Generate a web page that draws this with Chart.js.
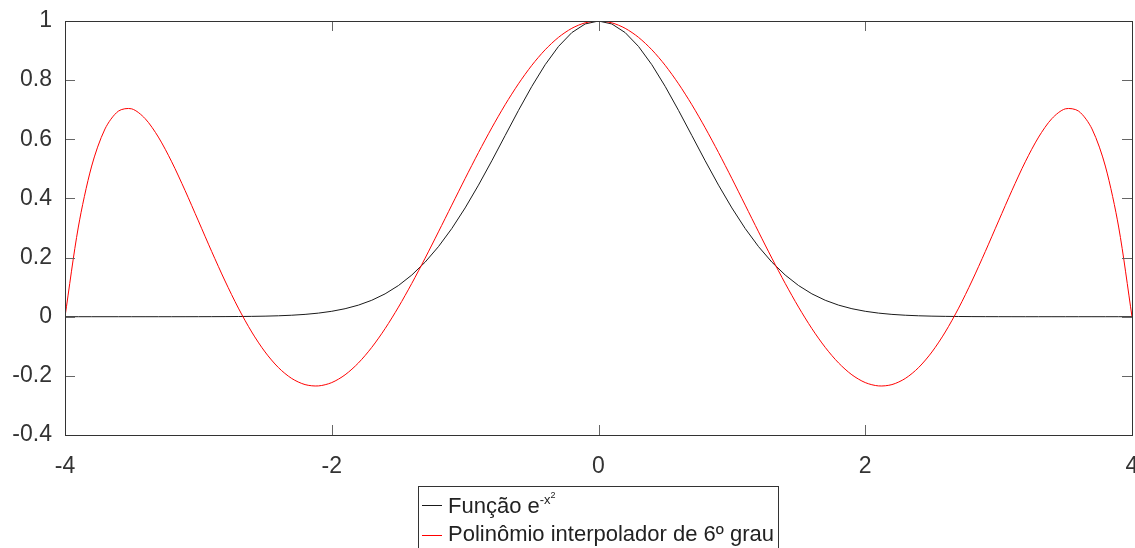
<!DOCTYPE html>
<html>
<head>
<meta charset="utf-8">
<script src="https://cdn.jsdelivr.net/npm/chart.js@4/dist/chart.umd.min.js"></script>
<style>
  html, body { margin: 0; padding: 0; background: #fff; }
  #wrap { position: relative; width: 1135px; height: 548px; overflow: hidden; }
  #chart { position: absolute; left: 0; top: 0; }
  #legend {
    position: absolute; left: 418px; top: 486px; width: 359px; height: 80px;
    border: 1px solid #333; background: transparent;
    font-family: "Liberation Sans", Arial, sans-serif; color: #222;
  }
  .row { position: absolute; left: 29px; font-size: 22px; line-height: 22px; white-space: nowrap; }
  .sup1 { font-size: 13px; vertical-align: 9px; line-height: 0; }
  .sup2 { font-size: 9px; vertical-align: 6px; line-height: 0; }
</style>
</head>
<body>
<div id="wrap">
  <canvas id="chart" width="1135" height="548"></canvas>
  <div id="legend">
    <div class="row" style="top:8px">Função e<span class="sup1">-x<span class="sup2">2</span></span></div>
    <div class="row" style="top:36px">Polinômio interpolador de 6º grau</div>
  </div>
</div>
<script>
// x positions of the samples
const xs = [
  -4.0, -3.9, -3.8, -3.7, -3.6, -3.5, -3.4, -3.3, -3.2, -3.1,
  -3.0, -2.9, -2.8, -2.7, -2.6, -2.5, -2.4, -2.3, -2.2, -2.1,
  -2.0, -1.9, -1.8, -1.7, -1.6, -1.5, -1.4, -1.3, -1.2, -1.1,
  -1.0, -0.9, -0.8, -0.7, -0.6, -0.5, -0.4, -0.3, -0.2, -0.1,
  0.0,
  0.1, 0.2, 0.3, 0.4, 0.5, 0.6, 0.7, 0.8, 0.9, 1.0,
  1.1, 1.2, 1.3, 1.4, 1.5, 1.6, 1.7, 1.8, 1.9, 2.0,
  2.1, 2.2, 2.3, 2.4, 2.5, 2.6, 2.7, 2.8, 2.9, 3.0,
  3.1, 3.2, 3.3, 3.4, 3.5, 3.6, 3.7, 3.8, 3.9, 4.0
];

// Função e^(-x^2)
const gaussValues = [
  0, 0, 0, 0, 0, 0, 0.00001, 0.00002, 0.00003, 0.00007,
  0.00012, 0.00022, 0.00039, 0.00068, 0.00116, 0.00193, 0.00315, 0.00504, 0.00791, 0.01216,
  0.01832, 0.02705, 0.03916, 0.05558, 0.0773, 0.1054, 0.14086, 0.18452, 0.23693, 0.2982,
  0.36788, 0.44486, 0.52729, 0.61263, 0.69768, 0.7788, 0.85214, 0.91393, 0.96079, 0.99005,
  1,
  0.99005, 0.96079, 0.91393, 0.85214, 0.7788, 0.69768, 0.61263, 0.52729, 0.44486, 0.36788,
  0.2982, 0.23693, 0.18452, 0.14086, 0.1054, 0.0773, 0.05558, 0.03916, 0.02705, 0.01832,
  0.01216, 0.00791, 0.00504, 0.00315, 0.00193, 0.00116, 0.00068, 0.00039, 0.00022, 0.00012,
  0.00007, 0.00003, 0.00002, 0.00001, 0, 0, 0, 0, 0, 0
];

// Polinômio interpolador de 6º grau
const polyValues = [
  0, 0.30325, 0.50953, 0.63507, 0.69517, 0.70296, 0.67029, 0.6075, 0.52389, 0.42709,
  0.32405, 0.22036, 0.12076, 0.02907, -0.05168, -0.11919, -0.17194, -0.20886, -0.22956, -0.23402,
  -0.22273, -0.19646, -0.15634, -0.10373, -0.04022, 0.03248, 0.11252, 0.19798, 0.2869, 0.37733,
  0.46734, 0.55509, 0.63881, 0.71685, 0.78771, 0.85005, 0.9027, 0.94468, 0.97523, 0.99378,
  1,
  0.99378, 0.97523, 0.94468, 0.9027, 0.85005, 0.78771, 0.71685, 0.63881, 0.55509, 0.46734,
  0.37733, 0.2869, 0.19798, 0.11252, 0.03248, -0.04022, -0.10373, -0.15634, -0.19646, -0.22273,
  -0.23402, -0.22956, -0.20886, -0.17194, -0.11919, -0.05168, 0.02907, 0.12076, 0.22036, 0.32405,
  0.42709, 0.52389, 0.6075, 0.67029, 0.70296, 0.69517, 0.63507, 0.50953, 0.30325, 0
];

const xTicks = [-4, -2, 0, 2, 4];
const yTicks = [-0.4, -0.2, 0, 0.2, 0.4, 0.6, 0.8, 1];

const labelFont = { family: '"Liberation Sans", Arial, sans-serif', size: 23 };

// frame round the plot plus small inward ticks on all four sides,
// and the short coloured lines of the legend box
const framePlugin = {
  id: 'frame',
  afterDraw(chart) {
    const ctx = chart.ctx;
    const a = chart.chartArea;
    const sx = chart.scales.x, sy = chart.scales.y;
    ctx.save();
    ctx.lineWidth = 1;
    ctx.strokeStyle = '#666';
    ctx.beginPath();
    xTicks.forEach(v => {
      const px = Math.round(sx.getPixelForValue(v)) + 0.5;
      ctx.moveTo(px, a.bottom); ctx.lineTo(px, a.bottom - 10);
      ctx.moveTo(px, a.top); ctx.lineTo(px, a.top + 10);
    });
    yTicks.forEach(v => {
      const py = Math.round(sy.getPixelForValue(v)) + 0.5;
      ctx.moveTo(a.left, py); ctx.lineTo(a.left + 10, py);
      ctx.moveTo(a.right, py); ctx.lineTo(a.right - 10, py);
    });
    ctx.stroke();
    ctx.strokeStyle = '#333';
    ctx.strokeRect(Math.round(a.left) + 0.5, Math.round(a.top) + 0.5,
      Math.round(a.right - a.left), Math.round(a.bottom - a.top));

    const lg = document.getElementById('legend');
    const lx = lg.offsetLeft + 4, ly = lg.offsetTop + 19;
    chart.data.datasets.forEach((ds, i) => {
      ctx.strokeStyle = ds.borderColor;
      ctx.beginPath();
      ctx.moveTo(lx, ly + i * 30 + 0.5);
      ctx.lineTo(lx + 20, ly + i * 30 + 0.5);
      ctx.stroke();
    });
    ctx.restore();
  }
};

const ctx = document.getElementById('chart').getContext('2d');
new Chart(ctx, {
  type: 'line',
  data: {
    datasets: [
      {
        label: 'Função e^-x²',
        data: xs.map((x, i) => ({ x: x, y: gaussValues[i] })),
        borderColor: '#1a1a1a',
        borderWidth: 1,
        pointRadius: 0,
        tension: 0,
        order: 2
      },
      {
        label: 'Polinômio interpolador de 6º grau',
        data: xs.map((x, i) => ({ x: x, y: polyValues[i] })),
        borderColor: '#ff0000',
        borderWidth: 1,
        pointRadius: 0,
        tension: 0.3,
        order: 1
      }
    ]
  },
  options: {
    responsive: false,
    animation: false,
    layout: { padding: { top: 21, right: 3, left: 0, bottom: 0 } },
    plugins: { legend: { display: false }, tooltip: { enabled: false } },
    scales: {
      x: {
        type: 'linear',
        min: -4, max: 4,
        afterBuildTicks: s => { s.ticks = xTicks.map(v => ({ value: v })); },
        afterFit: s => { s.height = 113; s.paddingRight = 0; s.paddingLeft = 0; },
        ticks: { font: labelFont, color: '#333', padding: 18, maxRotation: 0 },
        grid: { drawOnChartArea: false, drawTicks: false },
        border: { display: false }
      },
      y: {
        min: -0.4, max: 1,
        afterBuildTicks: s => { s.ticks = yTicks.map(v => ({ value: v })); },
        afterFit: s => { s.width = 65; s.paddingTop = 0; s.paddingBottom = 0; },
        ticks: {
          font: labelFont, color: '#333', padding: 13,
          callback: v => String(Math.round(v * 10) / 10)
        },
        grid: { drawOnChartArea: false, drawTicks: false },
        border: { display: false }
      }
    }
  },
  plugins: [framePlugin]
});
</script>
</body>
</html>
